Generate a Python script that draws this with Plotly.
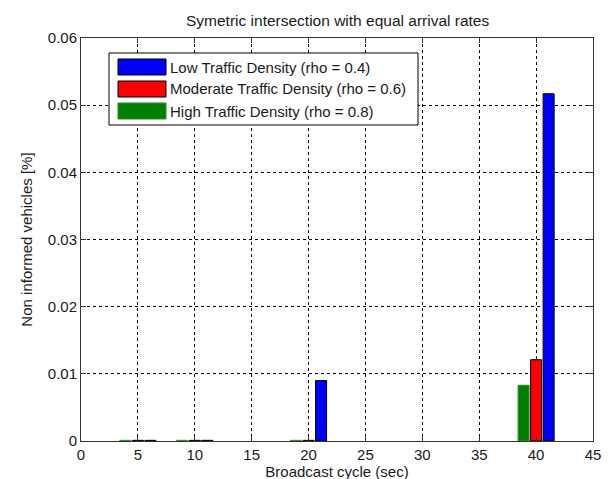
import plotly.graph_objects as go

# ---- data ----
broadcast_cycle = [5, 10, 20, 40]
low_density = [0.0001, 0.0001, 0.0090, 0.0517]       # rho = 0.4
moderate_density = [0.0001, 0.0001, 0.0001, 0.0121]  # rho = 0.6
high_density = [0.0001, 0.0001, 0.0001, 0.0083]      # rho = 0.8
series_names = ["Low Traffic Density (rho = 0.4)",
                "Moderate Traffic Density (rho = 0.6)",
                "High Traffic Density (rho = 0.8)"]
x_ticks = [0, 5, 10, 15, 20, 25, 30, 35, 40, 45]
y_ticks = [0, 0.01, 0.02, 0.03, 0.04, 0.05, 0.06]

W, H = 613, 479
L, R, T, B = 73, 585, 30, 433  # plot area in pixels

FONT = "Liberation Sans, Arial, sans-serif"
BLUE, RED, GREEN = "#0000FF", "#FF0000", "#008000"
TXT = "#1a1a1a"

fig = go.Figure()
# drawn left to right inside each group: high, moderate, low
fig.add_trace(go.Bar(x=broadcast_cycle, y=high_density, name=series_names[2],
                     marker=dict(color=GREEN, line=dict(color="#2a8f2a", width=1))))
fig.add_trace(go.Bar(x=broadcast_cycle, y=moderate_density, name=series_names[1],
                     marker=dict(color=RED, line=dict(color="black", width=1))))
fig.add_trace(go.Bar(x=broadcast_cycle, y=low_density, name=series_names[0],
                     marker=dict(color=BLUE, line=dict(color="black", width=1))))


def px(xp):
    return (xp - L) / (R - L)


def py(yp):
    return (B - yp) / (B - T)


shapes = []
annotations = []
# manual MATLAB-style legend
shapes.append(dict(type="rect", xref="paper", yref="paper",
                   x0=px(101), x1=px(410), y0=py(117), y1=py(45),
                   line=dict(color="black", width=1), fillcolor="white", layer="above"))
legend_items = [(series_names[0], BLUE, "black"),
                (series_names[1], RED, "black"),
                (series_names[2], GREEN, "#2a8f2a")]
row_y = [59, 81, 103]
for (name, col, edge), yc in zip(legend_items, row_y):
    shapes.append(dict(type="rect", xref="paper", yref="paper",
                       x0=px(110), x1=px(158), y0=py(yc + 8), y1=py(yc - 8),
                       line=dict(color=edge, width=1), fillcolor=col, layer="above"))
    annotations.append(dict(xref="paper", yref="paper", x=px(160), y=py(yc),
                            xanchor="left", yanchor="middle", text=name, showarrow=False,
                            font=dict(family=FONT, size=15, color=TXT)))

# plot title placed over the plot-area centre
annotations.append(dict(xref="paper", yref="paper", x=px(329), y=py(13),
                        xanchor="center", yanchor="middle", showarrow=False,
                        text="Symetric intersection with equal arrival rates",
                        font=dict(family=FONT, size=15.5, color=TXT)))

fig.update_layout(
    width=W, height=H,
    margin=dict(l=L, r=W - R, t=T, b=H - B, pad=0),
    paper_bgcolor="white", plot_bgcolor="white",
    barmode="group", bargap=0.34, bargroupgap=0.12,
    showlegend=False,
    font=dict(family=FONT, size=15, color=TXT),
    shapes=shapes,
    annotations=annotations,
)
fig.update_xaxes(range=[0, 45], tickvals=x_ticks, ticktext=[str(v) for v in x_ticks],
                 showgrid=True, gridcolor="black", griddash="3px,3px", gridwidth=1,
                 showline=True, linecolor="#333333", linewidth=1, mirror="ticks",
                 ticks="inside", ticklen=5, tickcolor="#333333",
                 zeroline=False, tickfont=dict(size=15), automargin=False,
                 title=dict(text="Broadcast cycle (sec)", standoff=2,
                            font=dict(size=15)))
fig.update_yaxes(range=[0, 0.06], tickvals=y_ticks, ticktext=[("%g" % v) for v in y_ticks],
                 showgrid=True, gridcolor="black", griddash="3px,3px", gridwidth=1,
                 showline=True, linecolor="#333333", linewidth=1, mirror="ticks",
                 ticks="inside", ticklen=5, tickcolor="#333333",
                 zeroline=False, tickfont=dict(size=15), automargin=False,
                 title=dict(text="Non informed vehicles [%]", standoff=11,
                            font=dict(size=15)))

fig.write_html("out.html")
